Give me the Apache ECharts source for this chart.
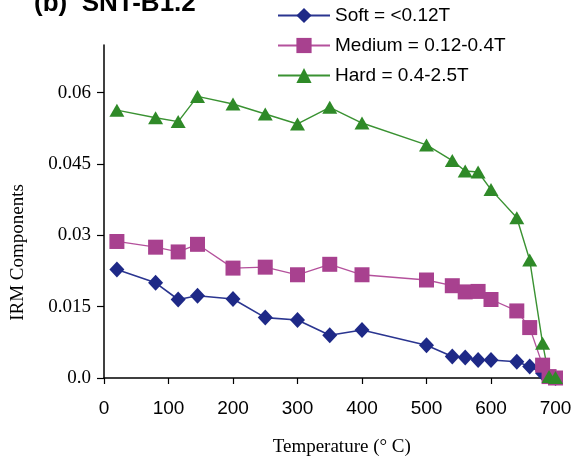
<!DOCTYPE html>
<html>
<head>
<meta charset="utf-8">
<script src="https://cdn.jsdelivr.net/npm/echarts@6/dist/echarts.min.js"></script>
<style>html,body{margin:0;padding:0;background:#fff}#c{width:586px;height:463px}</style>
</head>
<body>
<div id="c"></div>
<script>
var temps = [20, 80, 115, 145, 200, 250, 300, 350, 400, 500, 540, 560, 580, 600, 640, 660, 680, 690, 700];
var soft = [0.0228, 0.0200, 0.0165, 0.0173, 0.0166, 0.0127, 0.0122, 0.0090, 0.0101, 0.0069, 0.0045, 0.0043, 0.0038, 0.0038, 0.0034, 0.0024, 0.0010, 0.0003, 0.0000];
var medium = [0.0287, 0.0275, 0.0265, 0.0281, 0.0231, 0.0233, 0.0217, 0.0239, 0.0217, 0.0206, 0.0194, 0.0181, 0.0182, 0.0165, 0.0141, 0.0106, 0.0027, 0.0003, 0.0000];
var hard = [0.0563, 0.0547, 0.0539, 0.0592, 0.0576, 0.0555, 0.0534, 0.0569, 0.0536, 0.0490, 0.0457, 0.0435, 0.0433, 0.0396, 0.0337, 0.0248, 0.0073, 0.0003, 0.0001];
var seriesNames = ['Soft = <0.12T', 'Medium = 0.12-0.4T', 'Hard = 0.4-2.5T'];
var yTicks = [0, 0.015, 0.03, 0.045, 0.06];
var titleText = '(b)  SNT-B1.2';
var xName = 'Temperature (° C)';
var yName = 'IRM Components';

function pairs(vals) { return temps.map(function (t, i) { return [t, vals[i]]; }); }

var chart = echarts.init(document.getElementById('c'));
chart.setOption({
  animation: false,
  backgroundColor: '#fff',
  title: {
    text: titleText, left: 29, top: -14,
    textStyle: { fontFamily: 'Liberation Sans', fontWeight: 'bold', fontSize: 26, color: '#000' }
  },
  legend: {
    orient: 'vertical', left: 272, top: 1,
    itemWidth: 52, itemHeight: 19, itemGap: 11,
    textStyle: { fontFamily: 'Liberation Sans', fontSize: 19, color: '#000' },
    data: seriesNames
  },
  grid: { left: 104, right: 30.5, top: 45, bottom: 85 },
  xAxis: {
    type: 'value', min: 0, max: 700, interval: 100,
    axisLine: { lineStyle: { color: '#000', width: 1.5 } },
    axisTick: { show: true, length: 6, lineStyle: { color: '#000', width: 1.2 } },
    axisLabel: { margin: 21, fontFamily: 'Liberation Sans', fontSize: 19, color: '#000' },
    splitLine: { show: false },
    name: xName, nameLocation: 'middle', nameGap: 60,
    nameTextStyle: { fontFamily: 'Liberation Serif', fontSize: 19, color: '#000', padding: [0, 0, 0, 24] }
  },
  yAxis: {
    type: 'value', min: 0, max: 0.07,
    axisLine: { show: true, lineStyle: { color: '#000', width: 1.5 } },
    axisTick: { show: true, length: 7, customValues: yTicks, lineStyle: { color: '#000', width: 1.2 } },
    axisLabel: {
      margin: 13, customValues: yTicks, fontFamily: 'Liberation Serif', fontSize: 19, color: '#000',
      formatter: function (v) { return v === 0 ? '0.0' : String(v); }
    },
    splitLine: { show: false },
    name: yName, nameLocation: 'middle', nameGap: 76,
    nameTextStyle: { fontFamily: 'Liberation Serif', fontSize: 19, color: '#000', padding: [0, 82, 0, 0] }
  },
  series: [
    {
      name: seriesNames[0], type: 'line', data: pairs(soft), clip: false,
      symbol: 'diamond', symbolSize: [15, 16],
      itemStyle: { color: '#1E2987' },
      lineStyle: { color: '#2A3590', width: 1.6 }
    },
    {
      name: seriesNames[1], type: 'line', data: pairs(medium), clip: false,
      symbol: 'rect', symbolSize: 15,
      itemStyle: { color: '#A8418F' },
      lineStyle: { color: '#B4519C', width: 1.3 }
    },
    {
      name: seriesNames[2], type: 'line', data: pairs(hard), clip: false,
      symbol: 'triangle', symbolSize: [15, 13],
      itemStyle: { color: '#2F8A28' },
      lineStyle: { color: '#3A9232', width: 1.4 }
    }
  ]
});
</script>
</body>
</html>
